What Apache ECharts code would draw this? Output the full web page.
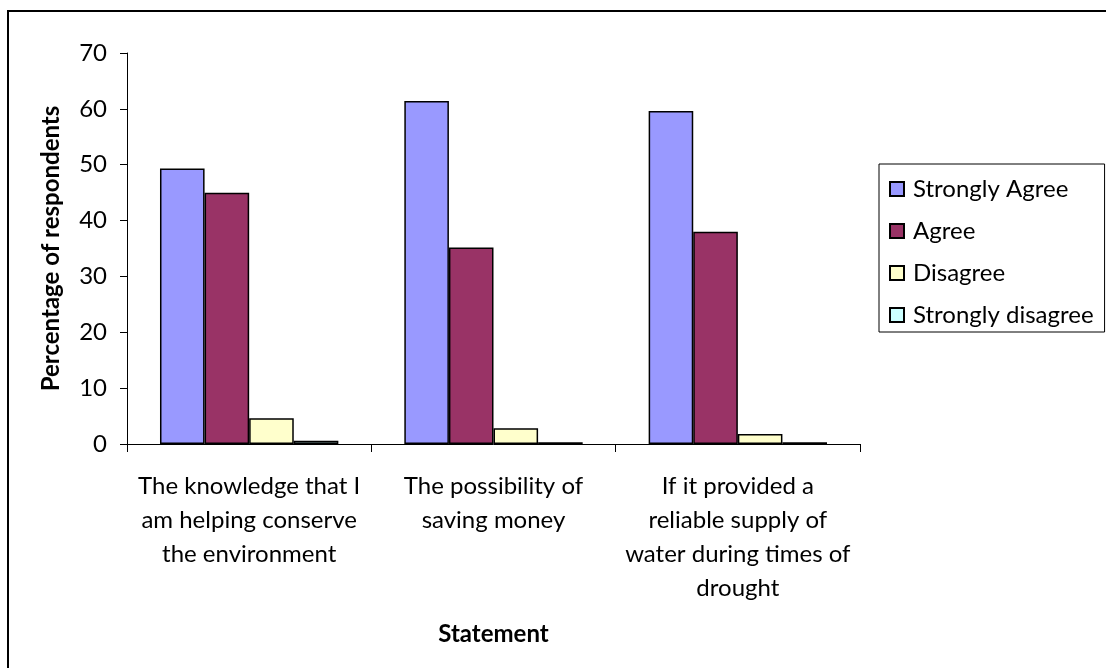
<!DOCTYPE html>
<html>
<head>
<meta charset="utf-8">
<script src="https://cdn.jsdelivr.net/npm/echarts@6/dist/echarts.min.js"></script>
<style>
  html, body { margin: 0; padding: 0; background: #fff; }
  #grafica { width: 1106px; height: 668px; }
</style>
</head>
<body>
<div id="grafica"></div>
<script>
// datos
var categorias = [
  'The knowledge that I\nam helping conserve\nthe environment',
  'The possibility of\nsaving money',
  'If it provided a\nreliable supply of\nwater during times of\ndrought'
];
var series_nombres = ['Strongly Agree', 'Agree', 'Disagree', 'Strongly disagree'];
var stronglyAgree = [49.3, 61.4, 59.6];
var agree = [45.0, 35.2, 38.0];
var disagree = [4.6, 2.8, 1.8];
var stronglyDisagree = [0.6, 0.3, 0.3];
var ticksY = [0, 10, 20, 30, 40, 50, 60, 70];

var colores = ['#9999FF', '#993366', '#FFFFCC', '#CCFFFF'];
var fuente = 'Lato';

var valores = [stronglyAgree, agree, disagree, stronglyDisagree];
var series = [];
for (var i = 0; i < valores.length; i++) {
  series.push({
    name: series_nombres[i],
    type: 'bar',
    data: valores[i],
    barGap: '0%',
    barCategoryGap: '27%',
    itemStyle: { color: colores[i], borderColor: '#000', borderWidth: 1.5 }
  });
}

var myChart = echarts.init(document.getElementById('grafica'));
myChart.setOption({
  animation: false,
  backgroundColor: '#fff',
  textStyle: { fontFamily: fuente, color: '#000' },
  // marco: solo se ven el borde izquierdo y el superior
  graphic: [{
    type: 'polyline',
    shape: { points: [[8, 668], [8, 11], [1106, 11]] },
    style: { fill: 'none', stroke: '#000', lineWidth: 2 }
  }],
  grid: { left: 127, right: 246, top: 53, bottom: 224 },
  legend: {
    orient: 'vertical',
    left: 879,
    top: 164,
    padding: [11, 11, 3, 10],
    itemGap: 14,
    itemWidth: 14,
    itemHeight: 14,
    borderColor: '#000',
    borderWidth: 1,
    icon: 'rect',
    textStyle: { fontFamily: fuente, fontSize: 24, lineHeight: 28, color: '#000', padding: [0, 0, 0, 4] },
    data: series_nombres
  },
  xAxis: {
    type: 'category',
    data: categorias,
    name: 'Statement',
    nameLocation: 'middle',
    nameGap: 178,
    nameTextStyle: { fontFamily: fuente, fontSize: 24, fontWeight: 'bold', color: '#000' },
    axisLine: { lineStyle: { color: '#000', width: 1 } },
    axisTick: { show: true, length: 8, lineStyle: { color: '#000' } },
    axisLabel: {
      interval: 0,
      margin: 25,
      fontFamily: fuente,
      fontSize: 24,
      lineHeight: 34,
      color: '#000',
      align: 'center'
    }
  },
  yAxis: {
    type: 'value',
    min: ticksY[0],
    max: ticksY[ticksY.length - 1],
    interval: 10,
    name: 'Percentage of respondents',
    nameLocation: 'middle',
    nameGap: 64,
    nameTextStyle: { fontFamily: fuente, fontSize: 24, fontWeight: 'bold', color: '#000' },
    axisLine: { show: true, lineStyle: { color: '#000', width: 1 } },
    axisTick: { show: true, length: 7, lineStyle: { color: '#000' } },
    splitLine: { show: false },
    axisLabel: { fontFamily: fuente, fontSize: 24, color: '#000', margin: 20 }
  },
  series: series
});
</script>
</body>
</html>
